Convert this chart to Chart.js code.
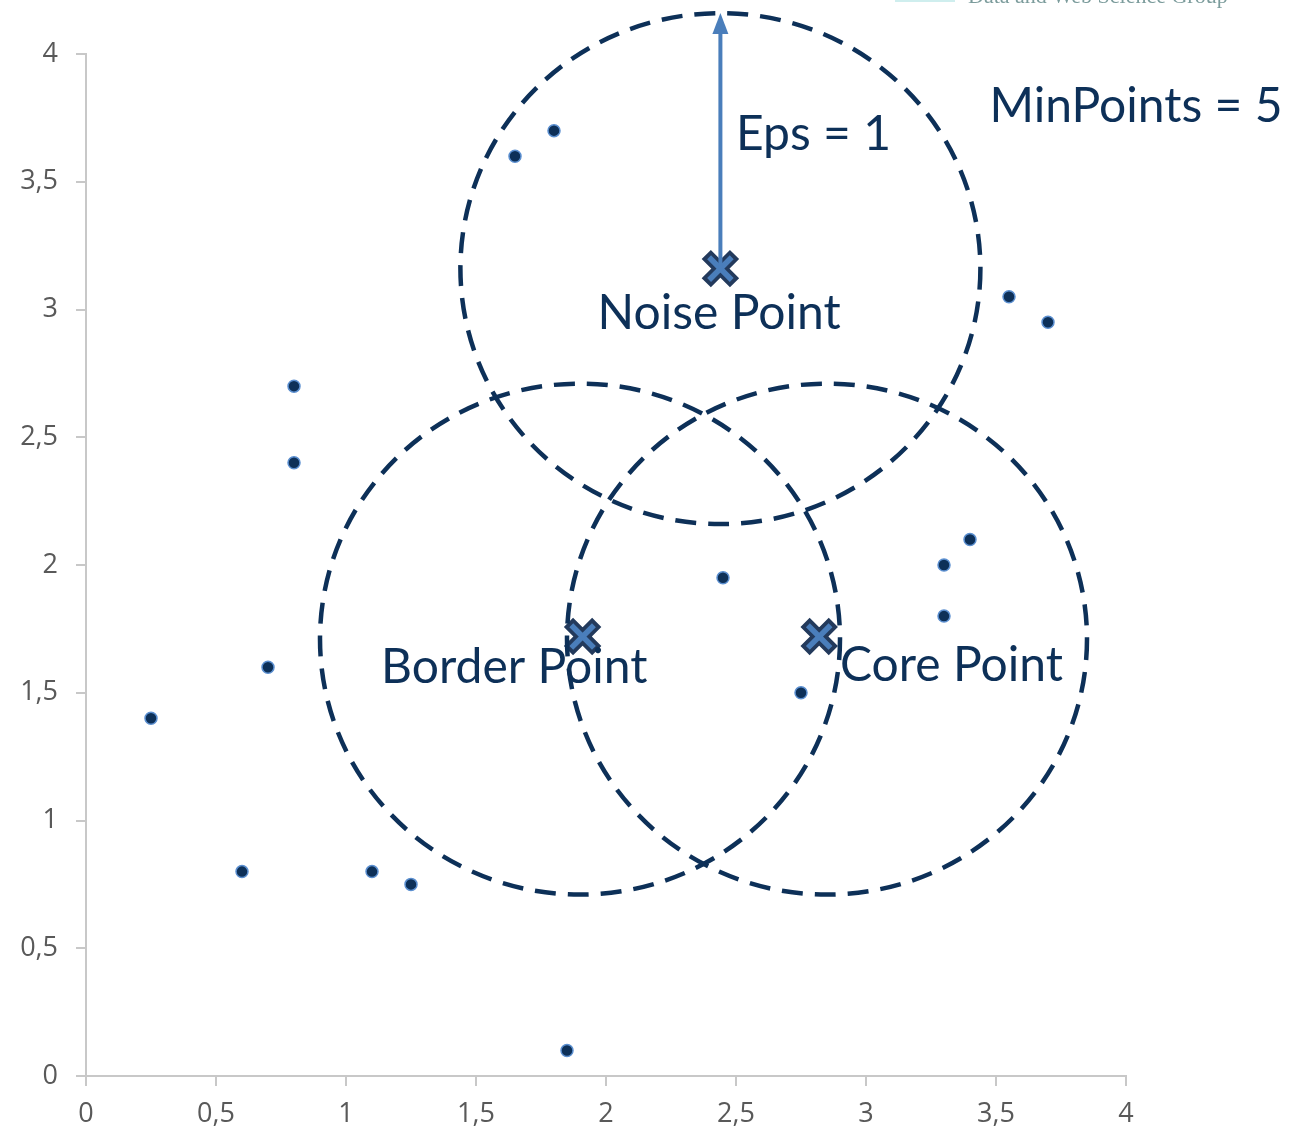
<!DOCTYPE html>
<html>
<head>
<meta charset="utf-8">
<script src="https://cdn.jsdelivr.net/npm/chart.js@4/dist/chart.umd.min.js"></script>
<style>
  html, body { margin: 0; padding: 0; background: #fff; }
  #wrap { width: 1307px; height: 1139px; position: relative; }
</style>
</head>
<body>
<div id="wrap"><canvas id="dbscan"></canvas></div>
<script>
// sample points
const pointX = [0.25, 0.6, 0.7, 0.8, 0.8, 1.1, 1.25, 1.65, 1.8, 1.85, 2.45, 2.75, 3.3, 3.4, 3.3, 3.55, 3.7];
const pointY = [1.4, 0.8, 1.6, 2.7, 2.4, 0.8, 0.75, 3.6, 3.7, 0.1, 1.95, 1.5, 2.0, 2.1, 1.8, 3.05, 2.95];

// highlighted points and their labels
const markerNames = ["Noise Point", "Border Point", "Core Point"];
const markerX = [2.44, 1.91, 2.82];
const markerY = [3.16, 1.72, 1.72];

// centres of the eps circles
const circleX = [2.44, 1.9, 2.85];
const circleY = [3.16, 1.71, 1.71];

const eps = 1;
const minPoints = 5;
const tickValues = [0, 0.5, 1, 1.5, 2, 2.5, 3, 3.5, 4];

const navy = "#0d3058";
const blue = "#4a7ebb";
const fmt = v => String(v).replace(".", ",");

const overlay = {
  id: "overlay",
  afterDatasetsDraw(chart) {
    const { ctx, scales: { x, y } } = chart;
    ctx.save();

    // eps neighbourhoods
    ctx.strokeStyle = navy;
    ctx.lineWidth = 4.5;
    ctx.setLineDash([21, 12]);
    circleX.forEach((cxv, i) => {
      const cx = x.getPixelForValue(cxv);
      const cy = y.getPixelForValue(circleY[i]);
      const rx = x.getPixelForValue(cxv + eps) - cx;
      const ry = cy - y.getPixelForValue(circleY[i] + eps);
      ctx.beginPath();
      ctx.ellipse(cx, cy, rx, ry, 0, 0, Math.PI * 2);
      ctx.stroke();
    });
    ctx.setLineDash([]);

    // eps arrow from the noise point
    const ax = x.getPixelForValue(markerX[0]);
    const ay0 = y.getPixelForValue(markerY[0]);
    const ay1 = y.getPixelForValue(markerY[0] + eps);
    ctx.strokeStyle = blue;
    ctx.fillStyle = blue;
    ctx.lineWidth = 4;
    ctx.beginPath();
    ctx.moveTo(ax, ay0);
    ctx.lineTo(ax, ay1 + 16);
    ctx.stroke();
    ctx.beginPath();
    ctx.moveTo(ax, ay1);
    ctx.lineTo(ax - 8, ay1 + 21);
    ctx.lineTo(ax + 8, ay1 + 21);
    ctx.closePath();
    ctx.fill();

    // labels
    ctx.fillStyle = navy;
    ctx.font = "48px Lato, 'Open Sans', sans-serif";
    ctx.textBaseline = "alphabetic";
    ctx.textAlign = "center";
    ctx.fillText(markerNames[0], x.getPixelForValue(2.435), y.getPixelForValue(2.925));
    ctx.textAlign = "left";
    ctx.fillText(markerNames[1], x.getPixelForValue(1.135), y.getPixelForValue(1.54));
    ctx.fillText(markerNames[2], x.getPixelForValue(2.9), y.getPixelForValue(1.545));
    ctx.fillText("Eps = " + eps, x.getPixelForValue(2.5), y.getPixelForValue(3.625));
    ctx.fillText("MinPoints = " + minPoints, x.getPixelForValue(3.475), y.getPixelForValue(3.735));

    // header remnant at the top edge
    ctx.fillStyle = "#7c9c9c";
    ctx.font = "22px 'Liberation Serif', serif";
    ctx.fillText("Data and Web Science Group", 968, 3);
    ctx.fillStyle = "#cfeeee";
    ctx.fillRect(895, 0, 60, 2);
    ctx.restore();
  }
};

new Chart(document.getElementById("dbscan"), {
  type: "scatter",
  data: {
    datasets: [
      {
        data: pointX.map((v, i) => ({ x: v, y: pointY[i] })),
        pointRadius: 6,
        backgroundColor: navy,
        borderColor: "#5b8fd0",
        borderWidth: 1.5,
        order: 3
      },
      {
        data: markerX.map((v, i) => ({ x: v, y: markerY[i] })),
        pointStyle: "crossRot",
        pointRadius: 20,
        borderColor: "#233a5c",
        borderWidth: 13,
        order: 2
      },
      {
        data: markerX.map((v, i) => ({ x: v, y: markerY[i] })),
        pointStyle: "crossRot",
        pointRadius: 16,
        borderColor: blue,
        borderWidth: 5.5,
        order: 1
      }
    ]
  },
  options: {
    responsive: true,
    maintainAspectRatio: false,
    animation: false,
    layout: { padding: { left: 0, right: 181, top: 54, bottom: 0 } },
    plugins: { legend: { display: false }, tooltip: { enabled: false } },
    scales: {
      x: {
        type: "linear",
        min: 0,
        max: 4,
        afterBuildTicks: s => { s.ticks = tickValues.map(v => ({ value: v })); },
        afterFit: s => { s.height = 63; },
        border: { color: "#c8c8c8", width: 2 },
        grid: { drawOnChartArea: false, drawTicks: true, tickLength: 10, color: "#c8c8c8", lineWidth: 2 },
        ticks: { color: "#595959", font: { size: 27, family: "'Open Sans', sans-serif" }, padding: 12, callback: fmt, maxRotation: 0 }
      },
      y: {
        type: "linear",
        min: 0,
        max: 4,
        afterBuildTicks: s => { s.ticks = tickValues.map(v => ({ value: v })); },
        afterFit: s => { s.width = 86; },
        border: { color: "#c8c8c8", width: 2 },
        grid: { drawOnChartArea: false, drawTicks: true, tickLength: 10, color: "#c8c8c8", lineWidth: 2 },
        ticks: { color: "#595959", font: { size: 27, family: "'Open Sans', sans-serif" }, padding: 18, callback: fmt }
      }
    }
  },
  plugins: [overlay]
});
</script>
</body>
</html>
